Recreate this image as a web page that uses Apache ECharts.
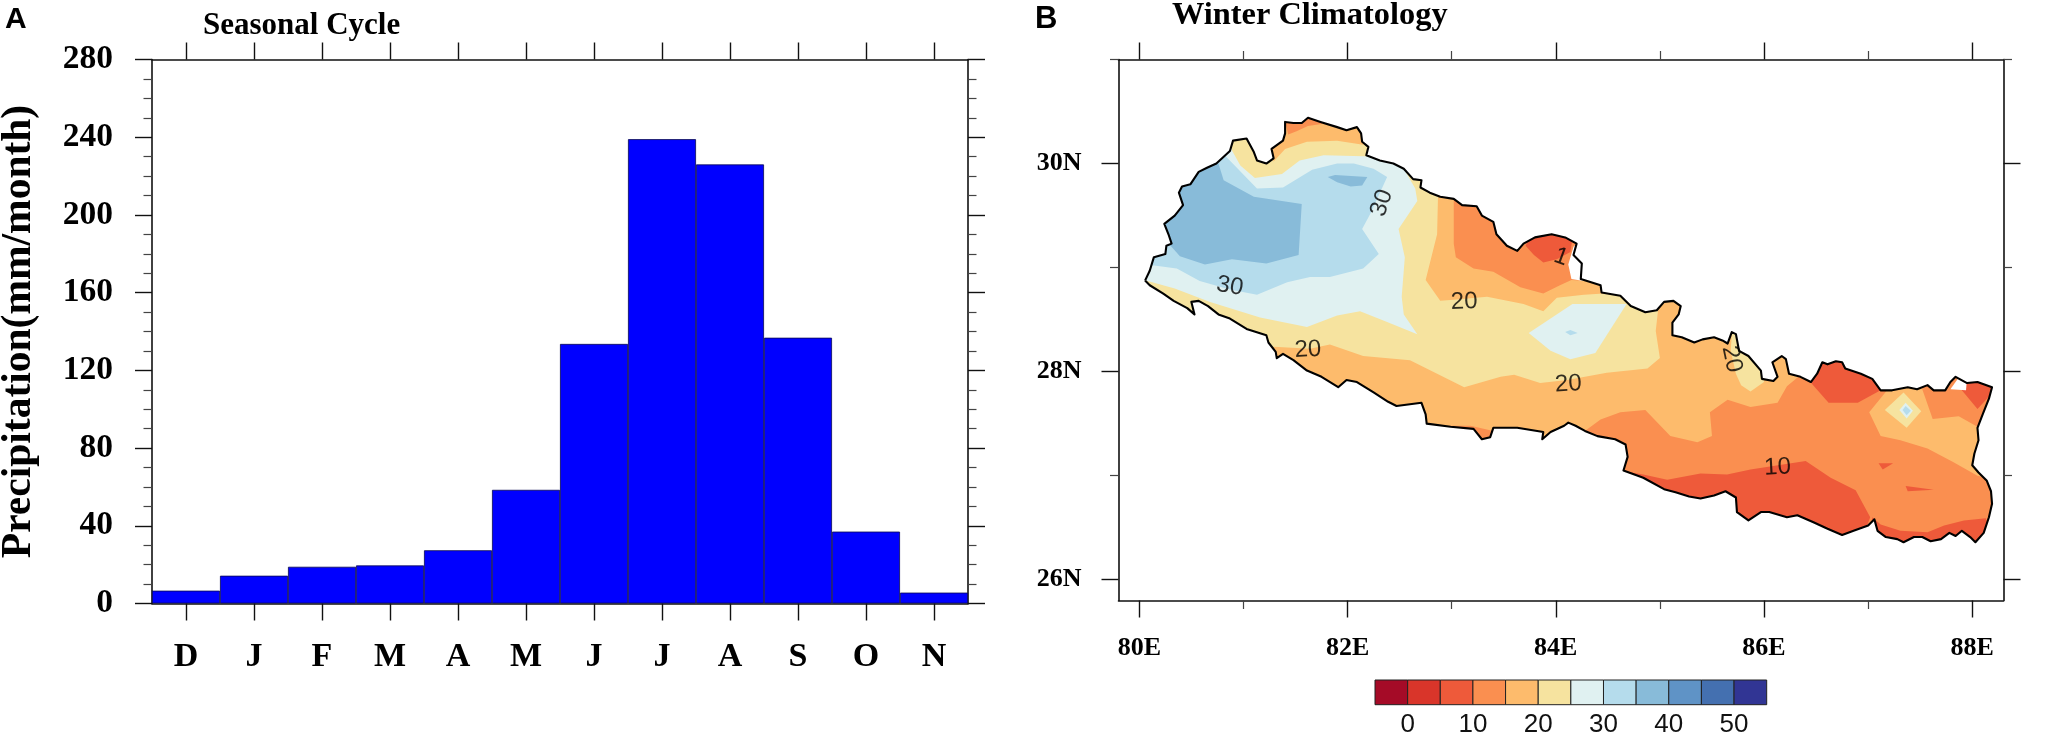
<!DOCTYPE html>
<html><head><meta charset="utf-8">
<style>html,body{margin:0;padding:0;background:#fff}#c{width:2046px;height:736px}</style>
<script src="https://cdn.jsdelivr.net/npm/echarts@6/dist/echarts.min.js"></script>
</head><body><div id="c"></div>
<script>
const months = ['D','J','F','M','A','M','J','J','A','S','O','N'];
const precipitation = [6.6,14.3,18.9,19.6,27.4,58.5,133.6,239,226,136.8,37,5.6];
const panelTitles = ['Seasonal Cycle','Winter Climatology'];
const yAxisTitle = 'Precipitation(mm/month)';
const lonMajor = [80,82,84,86,88];
const lonMinor = [81,83,85,87];
const latMajor = [26,28,30];
const latMinor = [27,29,31];
const colorbarStarts = [-5,0,5,10,15,20,25,30,35,40,45,50];
const colorbarLabels = [0,10,20,30,40,50];
const palette = ['#a50b27','#d9352a','#ee5a3a','#fa8f50','#fdbb6c','#f6e39f','#e0f1f1','#b5dcec','#88bbd9','#5f93c6','#4470b0','#313594'];

const nepalBorder = [[80.055,28.875],[80.10,28.97],[80.14,29.10],[80.25,29.13],[80.26,29.21],[80.31,29.23],[80.28,29.32],[80.24,29.42],[80.34,29.50],[80.42,29.60],[80.38,29.72],[80.41,29.78],[80.49,29.80],[80.57,29.92],[80.65,29.96],[80.74,30.00],[80.87,30.12],[80.90,30.22],[81.03,30.24],[81.10,30.11],[81.13,30.03],[81.22,30.00],[81.29,30.05],[81.27,30.14],[81.38,30.22],[81.40,30.29],[81.40,30.40],[81.48,30.39],[81.56,30.39],[81.62,30.44],[81.74,30.40],[81.90,30.35],[81.99,30.32],[82.09,30.35],[82.13,30.29],[82.14,30.21],[82.20,30.16],[82.18,30.08],[82.31,30.03],[82.44,30.00],[82.54,29.95],[82.63,29.85],[82.71,29.84],[82.70,29.77],[82.79,29.72],[82.89,29.68],[83.02,29.66],[83.10,29.60],[83.24,29.59],[83.29,29.50],[83.40,29.44],[83.43,29.32],[83.53,29.21],[83.63,29.16],[83.69,29.23],[83.80,29.29],[83.96,29.32],[84.09,29.29],[84.20,29.23],[84.17,29.12],[84.25,29.04],[84.24,28.89],[84.43,28.83],[84.44,28.76],[84.62,28.73],[84.72,28.63],[84.86,28.57],[84.97,28.59],[85.04,28.67],[85.13,28.68],[85.20,28.63],[85.18,28.55],[85.12,28.47],[85.12,28.35],[85.21,28.33],[85.33,28.28],[85.41,28.31],[85.52,28.33],[85.60,28.30],[85.65,28.27],[85.69,28.38],[85.73,28.36],[85.76,28.20],[85.85,28.15],[85.97,28.01],[85.98,27.93],[86.09,27.91],[86.13,27.95],[86.08,28.09],[86.17,28.15],[86.21,28.12],[86.24,27.98],[86.35,27.95],[86.45,27.90],[86.51,27.98],[86.56,28.09],[86.61,28.07],[86.69,28.10],[86.75,28.09],[86.78,28.03],[86.93,27.98],[87.04,27.93],[87.12,27.82],[87.23,27.82],[87.38,27.85],[87.47,27.83],[87.57,27.87],[87.63,27.82],[87.74,27.82],[87.79,27.90],[87.84,27.95],[87.95,27.89],[88.05,27.90],[88.19,27.85],[88.16,27.74],[88.10,27.59],[88.05,27.46],[88.06,27.34],[88.02,27.21],[88.00,27.10],[88.06,27.03],[88.14,26.95],[88.18,26.85],[88.19,26.73],[88.16,26.60],[88.11,26.45],[88.03,26.36],[87.98,26.41],[87.90,26.47],[87.84,26.42],[87.78,26.45],[87.70,26.39],[87.60,26.37],[87.52,26.41],[87.44,26.41],[87.34,26.36],[87.28,26.39],[87.17,26.41],[87.09,26.47],[87.06,26.58],[87.00,26.52],[86.86,26.47],[86.75,26.43],[86.61,26.49],[86.48,26.55],[86.32,26.62],[86.22,26.60],[86.05,26.65],[85.97,26.65],[85.85,26.57],[85.74,26.65],[85.73,26.79],[85.63,26.85],[85.52,26.81],[85.39,26.78],[85.28,26.80],[85.15,26.84],[85.04,26.87],[84.84,26.98],[84.65,27.05],[84.69,27.18],[84.67,27.30],[84.57,27.35],[84.40,27.38],[84.28,27.43],[84.19,27.48],[84.12,27.51],[84.08,27.48],[83.95,27.42],[83.87,27.35],[83.88,27.42],[83.63,27.46],[83.40,27.46],[83.37,27.37],[83.29,27.35],[83.21,27.45],[82.99,27.47],[82.76,27.50],[82.75,27.59],[82.71,27.70],[82.47,27.67],[82.39,27.71],[82.25,27.80],[82.09,27.90],[81.99,27.92],[81.91,27.85],[81.75,27.95],[81.61,28.01],[81.48,28.11],[81.38,28.17],[81.32,28.13],[81.31,28.19],[81.24,28.28],[81.22,28.35],[81.03,28.41],[80.87,28.51],[80.76,28.55],[80.66,28.63],[80.57,28.68],[80.50,28.67],[80.53,28.55],[80.46,28.61],[80.33,28.68],[80.23,28.75],[80.10,28.83],[80.055,28.875]];

const band15to20Base = [[79.9,26.2],[88.4,26.2],[88.4,30.6],[79.9,30.6]];
const band20to25West = [[79.9,28.9],[81.2,28.15],[81.29,28.24],[81.64,28.22],[81.83,28.26],[82.15,28.15],[82.60,28.11],[83.12,27.85],[83.47,27.95],[83.60,27.97],[83.85,27.89],[84.11,27.92],[84.49,27.99],[84.88,28.03],[85.00,28.13],[84.96,28.39],[84.98,28.57],[85.0,28.8],[84,30],[82,31],[80,30]];
const band20to25East = [[85.68,28.20],[85.73,27.98],[85.78,27.87],[85.87,27.81],[86.00,27.90],[85.95,28.4],[85.7,28.5]];
const band15to20Centre = [[82.87,29.74],[82.86,29.32],[82.78,29.00],[82.75,28.88],[82.89,28.68],[83.02,28.69],[83.34,28.72],[83.69,28.65],[83.88,28.58],[84.01,28.71],[84.27,28.74],[84.46,28.75],[84.56,28.81],[84.33,29.65],[83.21,29.77]];
const band10to15Centre = [[83.02,29.66],[83.02,29.23],[83.04,29.10],[83.21,28.99],[83.40,28.96],[83.66,28.81],[83.88,28.75],[84.04,28.83],[84.15,28.88],[84.30,28.87],[84.36,29.00],[84.33,29.39],[83.21,29.71]];
const band5to10Centre = [[83.71,29.21],[83.79,29.12],[83.88,29.05],[84.01,29.08],[84.14,29.15],[84.17,29.34],[83.79,29.37]];
const band15to20North = [[81.29,30.02],[81.40,30.14],[81.61,30.21],[81.90,30.22],[82.15,30.18],[82.25,30.29],[81.93,30.48],[81.39,30.51],[81.26,30.13]];
const band10to15North = [[81.43,30.28],[81.51,30.31],[81.62,30.36],[81.75,30.38],[81.80,30.45],[81.38,30.48]];
const band25to30West = [[80.01,28.89],[80.34,28.80],[80.68,28.67],[81.16,28.52],[81.61,28.43],[81.90,28.54],[82.12,28.58],[82.35,28.49],[82.67,28.36],[82.54,28.55],[82.52,28.72],[82.55,29.10],[82.49,29.37],[82.67,29.64],[82.65,29.76],[82.54,29.95],[82.51,30.06],[82.15,30.07],[81.77,30.08],[81.54,30.03],[81.37,29.90],[81.11,29.86],[80.97,29.98],[80.89,30.125],[80.84,30.32],[80.2,29.9],[79.9,29.2]];
const band30to35West = [[80.07,29.03],[80.36,28.99],[80.58,28.87],[80.87,28.79],[81.13,28.74],[81.42,28.86],[81.64,28.91],[81.83,28.91],[82.15,28.99],[82.30,29.13],[82.14,29.37],[82.22,29.52],[82.38,29.87],[82.25,29.95],[82.06,30.00],[81.90,30.00],[81.66,29.94],[81.38,29.77],[81.13,29.76],[80.82,30.08],[80.71,30.09],[80.2,29.9],[80.0,29.0]];
const band35to40West = [[80.76,30.0],[80.81,29.84],[81.10,29.68],[81.56,29.61],[81.53,29.12],[81.22,29.04],[80.89,29.08],[80.63,29.03],[80.39,29.11],[80.30,29.21],[80.14,29.26],[80.14,29.84],[80.58,30.09]];
const band35to40Spot = [[81.81,29.87],[81.88,29.89],[82.19,29.87],[82.14,29.79],[82.03,29.78],[81.90,29.82]];
const band25to30Centre = [[83.74,28.37],[84.16,28.65],[84.68,28.65],[84.38,28.18],[84.14,28.12],[83.95,28.20]];
const band30to35Centre = [[84.09,28.38],[84.14,28.40],[84.21,28.37],[84.14,28.35]];
const band10to15East = [[84.24,27.40],[84.43,27.54],[84.62,27.61],[84.86,27.63],[85.10,27.38],[85.36,27.32],[85.50,27.38],[85.48,27.61],[85.65,27.73],[85.87,27.66],[86.13,27.70],[86.22,27.86],[86.33,27.95],[86.35,28.3],[88.4,28.3],[88.4,26.2],[84.8,26.2],[84.45,27.0]];
const band15to20East = [[87.01,27.61],[87.19,27.83],[87.19,27.95],[87.52,27.95],[87.52,27.83],[87.62,27.545],[87.87,27.57],[88.05,27.47],[88.27,27.50],[88.27,26.95],[88.05,27.00],[87.82,27.13],[87.57,27.26],[87.31,27.34],[87.12,27.38]];
const band20to25Diamond = [[87.16,27.63],[87.34,27.80],[87.51,27.62],[87.37,27.46]];
const band25to30Diamond = [[87.30,27.63],[87.36,27.70],[87.43,27.625],[87.37,27.55]];
const band30to35Diamond = [[87.33,27.63],[87.36,27.67],[87.41,27.625],[87.37,27.58]];
const band5to10North = [[86.40,27.95],[86.62,27.70],[86.90,27.70],[87.12,27.82],[87.10,28.1],[86.5,28.2]];
const band5to10South = [[84.62,27.05],[84.84,27.01],[85.07,26.96],[85.39,27.02],[85.645,27.01],[85.87,27.06],[86.40,27.14],[86.64,26.98],[86.88,26.86],[87.02,26.60],[86.97,26.47],[86.9,26.3],[85,26.6],[84.6,26.95]];
const band5to10SouthEast = [[87.04,26.60],[87.12,26.53],[87.31,26.47],[87.57,26.455],[87.73,26.52],[87.92,26.57],[88.13,26.59],[88.21,26.37],[88.02,26.25],[87.31,26.25],[87.02,26.41]];
const band5to10NorthEast = [[87.90,27.82],[88.05,27.64],[88.17,27.77],[88.25,27.85],[88.17,27.95],[87.92,27.90]];
const band5to10SpeckA = [[87.10,27.12],[87.24,27.12],[87.14,27.06]];
const band5to10SpeckB = [[87.36,26.90],[87.63,26.865],[87.38,26.85]];
const band10to15Notch = [[82.99,27.48],[83.18,27.48],[83.40,27.43],[83.37,27.34],[83.26,27.34]];
const noDataNorth = [[84.12,29.03],[84.17,29.20],[84.22,29.25],[84.25,29.10],[84.30,29.0],[84.27,28.87],[84.15,28.89]];
const noDataEast = [[87.79,27.83],[87.86,27.93],[87.95,27.94],[87.94,27.82]];

const layers = [
 [4,band15to20Base],[5,band20to25West],[5,band20to25East],[4,band15to20Centre],[3,band10to15Centre],[2,band5to10Centre],
 [4,band15to20North],[3,band10to15North],[6,band25to30West],[7,band30to35West],[8,band35to40West],[8,band35to40Spot],
 [6,band25to30Centre],[7,band30to35Centre],[3,band10to15East],[4,band15to20East],[5,band20to25Diamond],[6,band25to30Diamond],[7,band30to35Diamond],
 [2,band5to10North],[2,band5to10South],[2,band5to10SouthEast],[2,band5to10NorthEast],[2,band5to10SpeckA],[2,band5to10SpeckB],[3,band10to15Notch],
 [-1,noDataNorth],[-1,noDataEast]
];
const contourLabels = [
 ['30',80.87,28.82,-10],['20',81.62,28.21,3],['20',83.12,28.67,2],['20',84.12,27.88,3],
 ['20',85.69,28.12,-78],['30',82.33,29.62,72],['1',84.05,29.10,-20],['10',86.13,27.08,3]
];

const SERIF='"Liberation Serif","Times New Roman",serif', SANS='"Liberation Sans",Arial,sans-serif';
const chart = echarts.init(document.getElementById('c'),null,{renderer:'canvas'});
const LINE={show:true,onZero:false,lineStyle:{color:'#111',width:1.6}};
const GB={left:152,top:59.5,width:816,height:544,outerBoundsMode:'none'};
const GM={left:1118.5,top:59.5,width:885,height:541,outerBoundsMode:'none'};
const tickMaj={show:true,length:17,lineStyle:{color:'#111',width:1.4}};
const tickMin={show:true,length:8.5,lineStyle:{color:'#444',width:1.2}};
const lbl={fontFamily:SERIF,fontWeight:'bold',color:'#000'};
function mapX(pos,vals,tick,labels,gi){return {type:'value',gridIndex:gi,position:pos,min:79.8,max:88.3,scale:true,splitLine:{show:false},
  axisLine:gi===1?LINE:{show:false,onZero:false},axisTick:Object.assign({},tick,{customValues:vals}),
  axisLabel:labels?{show:true,customValues:vals,formatter:v=>v+'E',fontFamily:SERIF,fontWeight:'bold',color:'#000',fontSize:26,margin:35,showMinLabel:true,showMaxLabel:true}:{show:false}};}
function mapY(pos,vals,tick,labels,gi){return {type:'value',gridIndex:gi,position:pos,min:25.8,max:31,scale:true,splitLine:{show:false},
  axisLine:gi===1?LINE:{show:false,onZero:false},axisTick:Object.assign({},tick,{customValues:vals}),
  axisLabel:labels?{show:true,customValues:vals,formatter:v=>v+'N',fontFamily:SERIF,fontWeight:'bold',color:'#000',fontSize:26,margin:37}:{show:false}};}
function barX(pos,labels){return {type:'category',gridIndex:0,position:pos,data:months,boundaryGap:true,axisLine:LINE,
  axisTick:Object.assign({},tickMaj,{alignWithLabel:true,interval:0}),splitLine:{show:false},
  axisLabel:labels?Object.assign({show:true,interval:0,fontSize:34,margin:37},lbl):{show:false}};}
function barY(pos,labels){return {type:'value',gridIndex:0,position:pos,min:0,max:280,interval:40,splitLine:{show:false},axisLine:LINE,
  axisTick:tickMaj,minorTick:Object.assign({},tickMin,{splitNumber:4}),minorSplitLine:{show:false},
  name:labels?yAxisTitle:'',nameLocation:'middle',nameGap:112,nameTextStyle:{fontFamily:SERIF,fontWeight:'bold',fontSize:41.5,color:'#000'},
  axisLabel:labels?Object.assign({show:true,fontSize:33.5,margin:39},lbl):{show:false}};}
const title=(text,x,y,fam,size)=>({text,left:x,top:y,textStyle:{fontFamily:fam,fontWeight:'bold',fontSize:size,color:'#000'},padding:0});
chart.setOption({
 animation:false,backgroundColor:'#fff',
 title:[title('A',5,5,SANS,30),title(panelTitles[0],203,10,SERIF,31),title('B',1035,4,SANS,31),title(panelTitles[1],1172,0,SERIF,32.4)],
 grid:[GB,GM,GM,{left:1375,top:680,width:391.7,height:24.7,outerBoundsMode:'none'}],
 xAxis:[barX('bottom',true),barX('top',false),
   mapX('bottom',lonMajor,tickMaj,true,1),mapX('top',lonMajor,tickMaj,false,1),
   mapX('bottom',lonMinor,tickMin,false,2),mapX('top',lonMinor,tickMin,false,2),
   {type:'value',gridIndex:3,min:-5,max:55,axisLine:{show:false},axisTick:{show:false},splitLine:{show:false},
    axisLabel:{customValues:colorbarLabels,fontFamily:SANS,fontSize:26,color:'#111',margin:7}}],
 yAxis:[barY('left',true),barY('right',false),
   mapY('left',latMajor,tickMaj,true,1),mapY('right',latMajor,tickMaj,false,1),
   mapY('left',latMinor,tickMin,false,2),mapY('right',latMinor,tickMin,false,2),
   {type:'value',gridIndex:3,min:0,max:1,show:false}],
 series:[
  {type:'bar',xAxisIndex:0,yAxisIndex:0,data:precipitation,barWidth:'100%',itemStyle:{color:'#0000ff',borderColor:'#0a0a50',borderWidth:0.8},silent:true},
  {type:'custom',xAxisIndex:2,yAxisIndex:2,clip:false,silent:true,z:2,data:layers.map((l,i)=>[i]),
   encode:{x:-1,y:-1},
   renderItem(p,api){
     const l=layers[api.value(0)];
     return {type:'polygon',shape:{points:l[1].map(q=>api.coord(q))},
       style:{fill:l[0]<0?'#fff':palette[l[0]],stroke:null},
       clipPath:{type:'polygon',shape:{points:nepalBorder.map(q=>api.coord(q))}}};
   }},
  {type:'line',xAxisIndex:2,yAxisIndex:2,data:nepalBorder,showSymbol:false,smooth:false,z:3,silent:true,clip:false,
   lineStyle:{color:'#000',width:2.1,join:'round'}},
  {type:'scatter',xAxisIndex:2,yAxisIndex:2,z:4,symbolSize:0,silent:true,
   data:contourLabels.map(c=>({value:[c[1],c[2]],label:{formatter:c[0],rotate:c[3]}})),
   label:{show:true,position:'inside',fontFamily:SANS,fontSize:24,color:'#000'}},
  {type:'custom',xAxisIndex:6,yAxisIndex:6,silent:true,data:colorbarStarts.map((s,i)=>[s,i]),encode:{x:0},
   renderItem(p,api){
     const a=api.coord([api.value(0),1]),b=api.coord([api.value(0)+5,0]);
     return {type:'rect',shape:{x:a[0],y:a[1],width:b[0]-a[0],height:b[1]-a[1]},
       style:{fill:palette[api.value(1)],stroke:'#222',lineWidth:1}};
   }}
 ]
});
</script></body></html>
